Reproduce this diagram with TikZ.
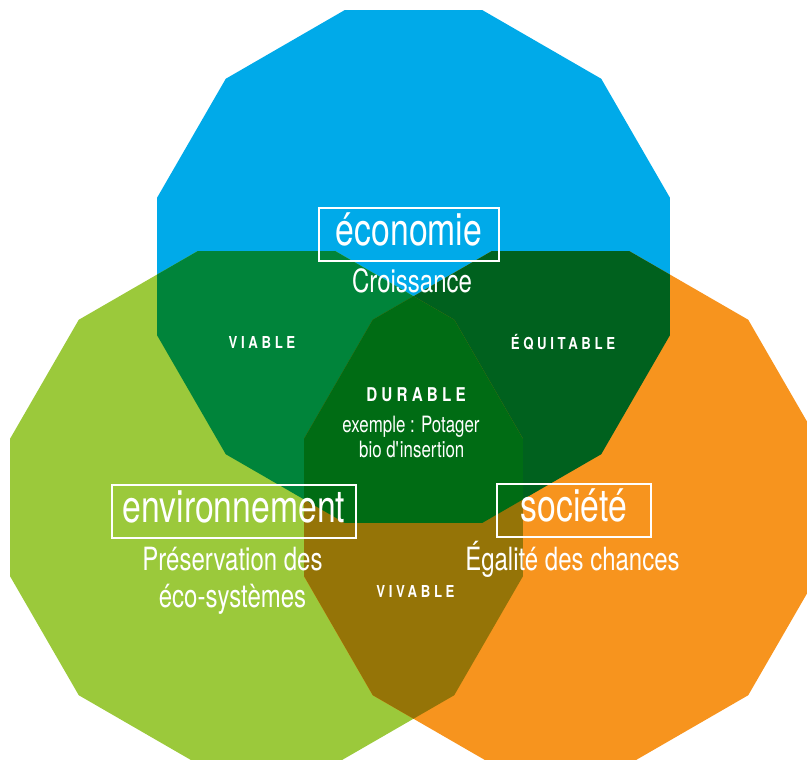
\documentclass[tikz,border=0pt]{standalone}
\usepackage{fontspec}
\setmainfont{TeX Gyre Heros}[FakeStretch=0.75]
\newfontfamily\spacedfont{TeX Gyre Heros}[FakeStretch=0.8,LetterSpace=22]
\definecolor{ecoblue}{RGB}{0,170,233}
\definecolor{envgreen}{RGB}{155,201,59}
\definecolor{socorange}{RGB}{247,148,30}
\definecolor{viablegreen}{RGB}{0,132,58}
\definecolor{equitgreen}{RGB}{0,97,30}
\definecolor{durgreen}{RGB}{0,108,20}
\definecolor{vivbrown}{RGB}{149,116,7}
\begin{document}
\begin{tikzpicture}[x=1pt,y=-1pt]
    % radius of each dodecagon
    \def\rad{265.5}
    % dodecagon centred at (#1,#2)
    \def\dodeca#1#2{plot[samples at={15,45,...,345}] ({#1+\rad*cos(\x)},{#2+\rad*sin(\x)}) -- cycle}
    % text styles
    \tikzstyle{head} = [draw=white, line width=1.6pt, text=white, inner sep=0pt,
        text height=37pt, text depth=16pt, anchor=base,
        font=\fontsize{45}{45}\selectfont];
    \tikzstyle{sub} = [text=white, inner sep=0pt, anchor=base,
        font=\fontsize{32}{32}\selectfont];
    \tikzstyle{small} = [text=white, inner sep=0pt, anchor=base,
        font=\fontsize{22.5}{22.5}\selectfont];
    \tikzstyle{tag} = [text=white, inner sep=0pt, anchor=base,
        font=\spacedfont\bfseries\fontsize{16.5}{16.5}\selectfont];
    \useasboundingbox (0,0) rectangle (807,760);
    \clip (0,0) rectangle (807,760);
    % the three dodecagons
    \fill[ecoblue] \dodeca{413.5}{266.5};
    \fill[envgreen] \dodeca{266.5}{507.5};
    \fill[socorange] \dodeca{560.5}{507.5};
    % overlaps
    \begin{scope}
      \clip \dodeca{413.5}{266.5};
      \fill[viablegreen] \dodeca{266.5}{507.5};
      \fill[equitgreen] \dodeca{560.5}{507.5};
    \end{scope}
    \begin{scope}
      \clip \dodeca{266.5}{507.5};
      \fill[vivbrown] \dodeca{560.5}{507.5};
      \clip \dodeca{560.5}{507.5};
      \fill[durgreen] \dodeca{413.5}{266.5};
    \end{scope}
    % labels
    \node[head, minimum width=180pt] (econode) at (409,245) {économie};
    \node[sub] (ecosub) at (412,292) {Croissance};
    \node[head, minimum width=244pt] (envnode) at (234,522) {environnement};
    \node[sub] (envsub) at (232.5,570) {Préservation des};
    \node[sub] (envsubb) at (232.5,607) {éco-systèmes};
    \node[head, minimum width=154pt] (socnode) at (574,521) {société};
    \node[sub] (socsub) at (572.5,570) {Égalité des chances};
    \node[tag] (viable) at (262,348) {VIABLE};
    \node[tag] (equit) at (563,349) {ÉQUITABLE};
    \node[tag] (vivable) at (415.5,597) {VIVABLE};
    \node[tag, font=\spacedfont\bfseries\fontsize{19}{19}\selectfont] (durable) at (416,401) {DURABLE};
    \node[small] (durex) at (411,432) {exemple : Potager};
    \node[small] (durexb) at (411.7,457) {bio d\textquotesingle insertion};
\end{tikzpicture}
\end{document}
